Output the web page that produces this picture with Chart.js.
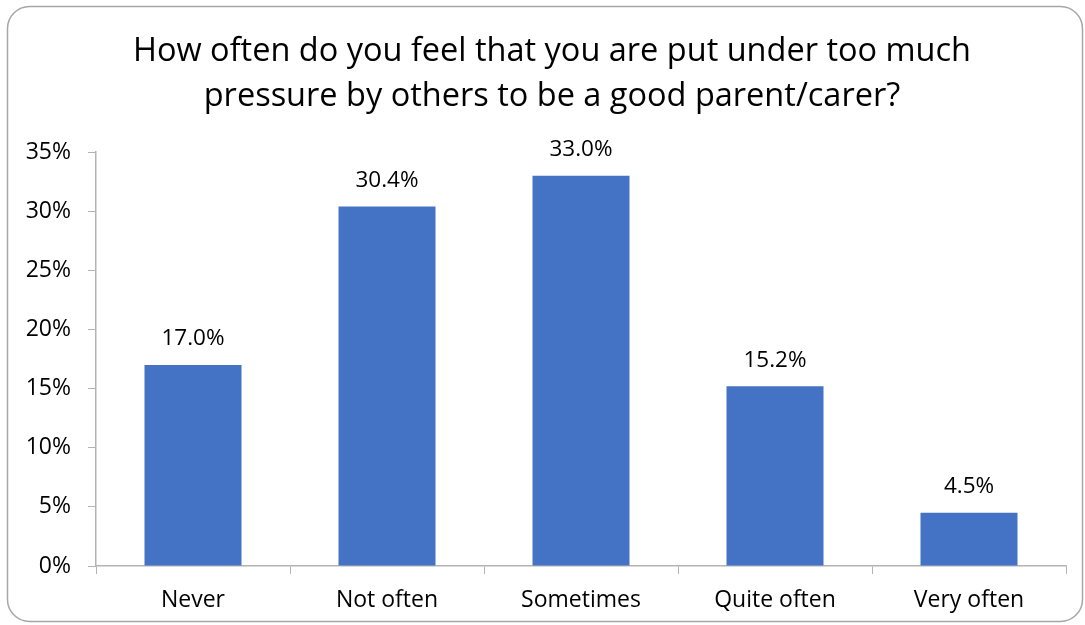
<!DOCTYPE html>
<html>
<head>
<meta charset="utf-8">
<script src="https://cdn.jsdelivr.net/npm/chart.js@4/dist/chart.umd.min.js"></script>
<style>
  html, body { margin: 0; padding: 0; background: #fff; }
  #wrap { width: 1085px; height: 625px; position: relative; }
</style>
</head>
<body>
<div id="wrap"><canvas id="pressureChart"></canvas></div>
<script>
const categories = ['Never', 'Not often', 'Sometimes', 'Quite often', 'Very often'];
const shares = [0.170, 0.304, 0.330, 0.152, 0.045];
const titleLines = ['How often do you feel that you are put under too much', 'pressure by others to be a good parent/carer?'];

const fontFamily = "'Open Sans', 'Noto Sans', sans-serif";
const axisGrey = '#b3b3b3';

// rounded frame round the whole chart, plus the two-line title
const framePlugin = {
    id: 'frame',
    beforeDraw(chart) {
        const c = chart.ctx;
        c.save();
        c.fillStyle = '#fff';
        c.fillRect(0, 0, chart.width, chart.height);
        c.strokeStyle = '#a6a6a6';
        c.lineWidth = 1.5;
        c.beginPath();
        c.roundRect(7.5, 6.5, 1075, 615, 22);
        c.stroke();

        c.font = '32.5px ' + fontFamily;
        c.fillStyle = '#000';
        c.textAlign = 'center';
        c.textBaseline = 'middle';
        titleLines.forEach((line, i) => c.fillText(line, 552, 52 + i * 45));
        c.restore();
    }
};

// value labels above each bar
const valueLabels = {
    id: 'valueLabels',
    afterDatasetsDraw(chart) {
        const c = chart.ctx;
        const meta = chart.getDatasetMeta(0);
        c.save();
        c.font = '22.5px ' + fontFamily;
        c.fillStyle = '#000';
        c.textAlign = 'center';
        c.textBaseline = 'middle';
        meta.data.forEach((bar, i) => {
            c.fillText((shares[i] * 100).toFixed(1) + '%', bar.x, bar.y - 26);
        });
        c.restore();
    }
};

const ctx = document.getElementById('pressureChart').getContext('2d');
new Chart(ctx, {
    type: 'bar',
    data: {
        labels: categories,
        datasets: [{
            data: shares,
            backgroundColor: '#4472c4',
            barPercentage: 0.5,
            categoryPercentage: 1.0
        }]
    },
    options: {
        responsive: true,
        maintainAspectRatio: false,
        animation: false,
        layout: { padding: { left: 0, right: 19, top: 152, bottom: 0 } },
        plugins: {
            legend: { display: false },
            tooltip: { enabled: false },
            title: { display: false }
        },
        scales: {
            x: {
                grid: { drawOnChartArea: false, color: axisGrey, tickLength: 8, offset: true },
                border: { color: axisGrey, width: 1.5 },
                ticks: { color: '#000', font: { family: fontFamily, size: 23 }, padding: 13 },
                afterFit: s => { s.height = 59; }
            },
            y: {
                min: 0,
                max: 0.35,
                grid: { drawOnChartArea: false, color: axisGrey, tickLength: 8 },
                border: { color: axisGrey, width: 1.5 },
                ticks: {
                    stepSize: 0.05,
                    color: '#000',
                    padding: 17,
                    font: { family: fontFamily, size: 23 },
                    callback: v => Math.round(v * 100) + '%'
                },
                afterFit: s => { s.width = 96; }
            }
        }
    },
    plugins: [framePlugin, valueLabels]
});
</script>
</body>
</html>
